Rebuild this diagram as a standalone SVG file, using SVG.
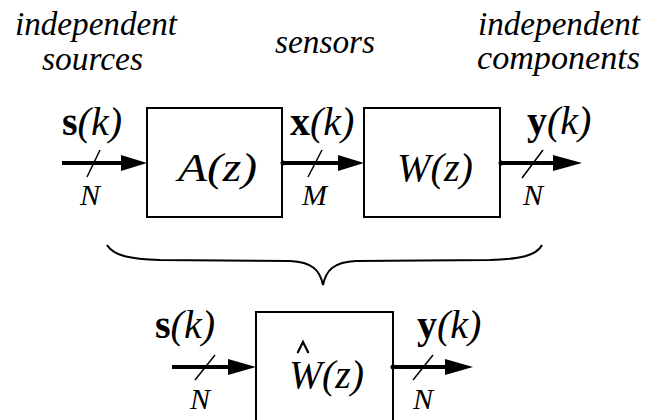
<svg xmlns="http://www.w3.org/2000/svg" width="661" height="420" viewBox="0 0 661 420">
<style>
.lbl{font-family:"Liberation Serif","Times New Roman",serif;font-style:italic;font-size:33px;fill:#000}
.math{font-family:"Liberation Serif","Times New Roman",serif;font-size:40px;fill:#000}
.it{font-style:italic}
.bf{font-weight:bold;font-style:normal}
.box{fill:#fff;stroke:#000;stroke-width:2}
.dim{font-family:"Liberation Serif","Times New Roman",serif;font-style:italic;font-size:30px;fill:#000}
.wire{stroke:#000;stroke-width:4;fill:none}
.slash{stroke:#000;stroke-width:1.5;fill:none}
.head{fill:#000}
</style>
<g id="labels">
<text class="lbl" x="15" y="35" textLength="162" lengthAdjust="spacingAndGlyphs">independent</text>
<text class="lbl" x="42" y="70" textLength="101" lengthAdjust="spacingAndGlyphs">sources</text>
<text class="lbl" x="275" y="53" textLength="100" lengthAdjust="spacingAndGlyphs">sensors</text>
<text class="lbl" x="478" y="35" textLength="162" lengthAdjust="spacingAndGlyphs">independent</text>
<text class="lbl" x="477" y="69" textLength="163" lengthAdjust="spacingAndGlyphs">components</text>
</g>
<g id="nodeA">
<rect class="box" x="147" y="108" width="135" height="109"/>
<text class="math it" x="178" y="181" textLength="79" lengthAdjust="spacingAndGlyphs">A(z)</text>
</g>
<g id="nodeW">
<rect class="box" x="364" y="108" width="136" height="109"/>
<text class="math it" x="397" y="181" textLength="76" lengthAdjust="spacingAndGlyphs">W(z)</text>
</g>
<g id="nodeWhat">
<rect class="box" x="256" y="312" width="137" height="120"/>
<text class="math it" x="289" y="388" textLength="75" lengthAdjust="spacingAndGlyphs">W(z)</text>
<path d="M297.5,353 L303,342 L308.5,353" fill="none" stroke="#000" stroke-width="2.2"/>
</g>
<g id="connectors">
<line class="wire" x1="62" y1="163" x2="125" y2="163"/>
<polygon class="head" points="147,163 121,155 121,171"/>
<line class="slash" x1="87" y1="177" x2="100" y2="150"/>
<circle cx="283" cy="163" r="2.5"/>
<line class="wire" x1="283" y1="163" x2="342" y2="163"/>
<polygon class="head" points="364,163 338,155 338,171"/>
<line class="slash" x1="308" y1="177" x2="322" y2="150"/>
<circle cx="501" cy="163" r="2.5"/>
<line class="wire" x1="501" y1="163" x2="558" y2="163"/>
<polygon class="head" points="582,163 553,155 553,171"/>
<line class="slash" x1="522" y1="178" x2="543" y2="150"/>
<path d="M107,245 C114,256 130,259 160,260 L290,261 C312,262 320,270 323,285 C326,270 334,262 356,261 L490,260 C520,259 536,256 542,245" fill="none" stroke="#000" stroke-width="2"/>
<line class="wire" x1="172" y1="367" x2="232" y2="367"/>
<polygon class="head" points="256,367 228,359 228,375"/>
<line class="slash" x1="195" y1="380" x2="215" y2="355"/>
<circle cx="393" cy="367" r="2.5"/>
<line class="wire" x1="393" y1="367" x2="450" y2="367"/>
<polygon class="head" points="473,367 445,359 445,375"/>
<line class="slash" x1="413" y1="380" x2="433" y2="355"/>
</g>
<g id="signal-labels">
<text class="math" x="62" y="135"><tspan class="bf">s</tspan><tspan class="it">(k)</tspan></text>
<text class="math" x="290" y="135"><tspan class="bf">x</tspan><tspan class="it">(k)</tspan></text>
<text class="math" x="527" y="134"><tspan class="bf">y</tspan><tspan class="it">(k)</tspan></text>
<text class="math" x="155" y="338"><tspan class="bf">s</tspan><tspan class="it">(k)</tspan></text>
<text class="math" x="417" y="338"><tspan class="bf">y</tspan><tspan class="it">(k)</tspan></text>
<text class="dim" x="80" y="205">N</text>
<text class="dim" x="302" y="205">M</text>
<text class="dim" x="523" y="205">N</text>
<text class="dim" x="190" y="409">N</text>
<text class="dim" x="413" y="409">N</text>
</g>
</svg>
